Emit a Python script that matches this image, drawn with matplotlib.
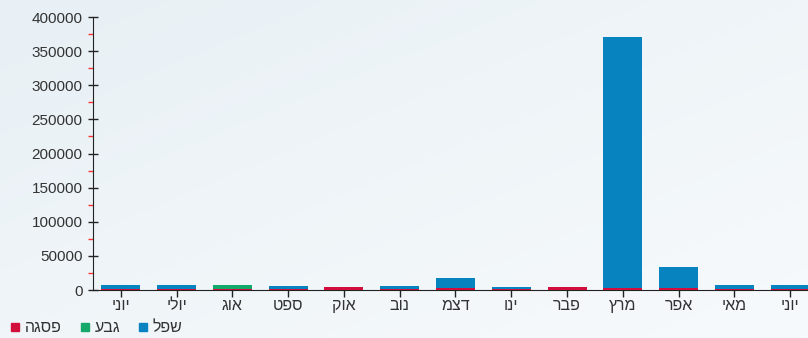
import matplotlib
matplotlib.use('Agg')
import matplotlib.pyplot as plt
import numpy as np
from matplotlib.lines import Line2D

plt.rcParams['font.family'] = ['Liberation Sans', 'DejaVu Sans']

# months (Hebrew, logical order)
months = ['יוני', 'יולי', 'אוג', 'ספט', 'אוק', 'נוב', 'דצמ', 'ינו', 'פבר', 'מרץ', 'אפר', 'מאי', 'יוני']
# series values, stacked bottom -> top
peak = [1500, 1500, 1500, 1300, 4000, 1300, 2500, 800, 4000, 2500, 2500, 1200, 1200]      # פסגה
shoulder = [0, 0, 5400, 0, 0, 0, 0, 0, 0, 0, 0, 0, 0]                                       # גבע
offpeak = [5400, 5400, 0, 4600, 0, 4600, 15500, 3200, 0, 367500, 31000, 5700, 6600]        # שפל
series_names = ['פסגה', 'גבע', 'שפל']

red = '#d20f3c'
green = '#14a86a'
blue = '#0784c0'

def heb(s):
    # matplotlib has no bidi support, flip to visual order
    return s[::-1]

fig = plt.figure(figsize=(8.08, 3.38), dpi=100)
fig.patch.set_facecolor('#eef4f8')

# soft background gradient
bg = fig.add_axes([0, 0, 1, 1], zorder=-10)
gx, gy = np.meshgrid(np.linspace(0, 1, 200), np.linspace(0, 1, 100))
grad = 0.5 * gx + 0.5 * (1 - gy)
bg.imshow(grad, cmap=matplotlib.colors.LinearSegmentedColormap.from_list('bgc', ['#e8f0f5', '#f7fafc']),
          aspect='auto', extent=[0, 1, 0, 1], origin='lower')
bg.axis('off')

ax = fig.add_axes([0.115, 0.142, 0.885, 0.8077])
ax.set_facecolor('none')

x = np.arange(len(months))
w = 0.7
b1 = np.array(peak)
b2 = b1 + np.array(shoulder)
ax.bar(x, peak, w, color=red, zorder=3)
ax.bar(x, shoulder, w, bottom=b1, color=green, zorder=3)
ax.bar(x, offpeak, w, bottom=b2, color=blue, zorder=3)

ax.set_xlim(-0.5, 12.32)
ax.set_ylim(0, 400000)
ax.set_yticks(np.arange(0, 400001, 50000))
ax.set_yticks(np.arange(25000, 400000, 50000), minor=True)
ax.set_yticklabels([str(v) for v in range(0, 400001, 50000)])
ax.tick_params(axis='y', which='major', direction='inout', length=7, width=1, color='#222222',
               labelsize=11, labelcolor='#333333', pad=4)
ax.tick_params(axis='y', which='minor', direction='out', length=3.5, width=1, color='#ff3333')

ax.set_xticks(x)
ax.set_xticklabels([heb(m) for m in months])
ax.tick_params(axis='x', direction='out', length=5, width=1, color='#222222',
               labelsize=11.5, labelcolor='#333333', pad=1)

for s in ['top', 'right']:
    ax.spines[s].set_visible(False)
ax.spines['left'].set_color('#222222')
ax.spines['bottom'].set_color('#222222')

handles = [Line2D([], [], marker='s', color=c, linestyle='none', markersize=6)
           for c in [red, green, blue]]
fig.legend(handles, [heb(n) for n in series_names], loc='lower left', bbox_to_anchor=(-0.006, -0.035),
           ncol=3, frameon=False, handlelength=0.7, handletextpad=0.25, columnspacing=1.1,
           fontsize=11.5, labelcolor='#333333')

fig.savefig('out.png', dpi=100, facecolor=fig.get_facecolor())
